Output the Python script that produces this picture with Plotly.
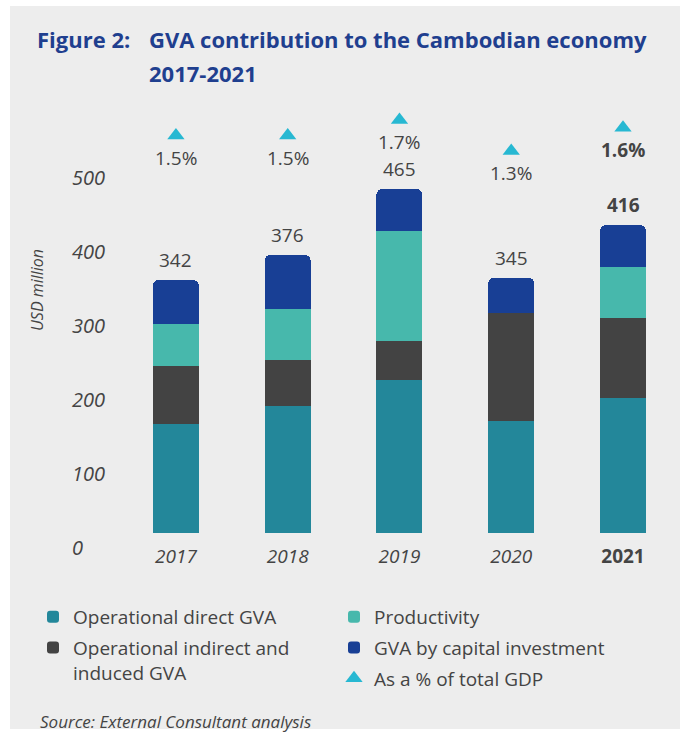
import plotly.graph_objects as go

# GVA components by year (USD million)
years = ["2017", "2018", "2019", "2020", "2021"]
direct_gva = [147, 172, 207, 152, 183]
indirect_gva = [79, 62, 52, 145, 107]
productivity = [57, 69, 149, 0, 70]
capital_gva = [59, 73, 57, 48, 56]
# GVA as a share of total GDP (%)
gdp_share = [1.5, 1.5, 1.7, 1.3, 1.6]
y_ticks = [0, 100, 200, 300, 400, 500]
latest_year = "2021"

totals = [sum(v) for v in zip(direct_gva, indirect_gva, productivity, capital_gva)]

FONT = "Open Sans"
TEXT = "#444444"
TITLE_BLUE = "#1f3f8f"
C_DIRECT = "#23879a"
C_INDIRECT = "#434343"
C_PROD = "#47b8ac"
C_CAPITAL = "#183f95"
C_TRI = "#27b8d2"

# plot area geometry (px) used to place paper-anchored items
ML, MT, W, H = 110, 100, 680, 739
PW = W - ML
PH = 433
PX_PER_UNIT = 0.74


def px_x(px):
    return (px - ML) / PW


def px_y(py):
    return 1 - (py - MT) / PH


fig = go.Figure()

series = [
    ("Operational direct GVA", direct_gva, C_DIRECT, "legend", "g1"),
    ("Operational indirect and<br>induced GVA", indirect_gva, C_INDIRECT, "legend", "g2"),
    ("Productivity", productivity, C_PROD, "legend2", "g3"),
    ("GVA by capital investment", capital_gva, C_CAPITAL, "legend2", "g4"),
]
for name, vals, color, leg, grp in series:
    fig.add_trace(go.Bar(
        x=years, y=vals, name=name,
        marker=dict(color=color, line=dict(width=0)),
        legend=leg, legendgroup=grp,
        hoverinfo="x+y+name",
    ))

fig.add_trace(go.Scatter(
    x=years, y=gdp_share, yaxis="y2", mode="markers",
    name="As a % of total GDP",
    marker=dict(symbol="triangle-up", size=15, color=C_TRI),
    legend="legend2", legendgroup="g5", cliponaxis=False,
))

annotations = []
# totals above each stack (category axis: x given as category index)
for i, (yr, tot) in enumerate(zip(years, totals)):
    txt = f"<b>{tot}</b>" if yr == latest_year else str(tot)
    annotations.append(dict(
        x=i, y=tot, xref="x", yref="y", text=txt, showarrow=False,
        yanchor="middle", yshift=20,
        font=dict(family=FONT, size=19, color=TEXT),
    ))
# share labels under the triangles
for i, (yr, p) in enumerate(zip(years, gdp_share)):
    txt = f"{p}%"
    if yr == latest_year:
        txt = f"<b>{txt}</b>"
    annotations.append(dict(
        x=i, y=p, xref="x", yref="y2", text=txt, showarrow=False,
        yanchor="middle", yshift=-22,
        font=dict(family=FONT, size=19, color=TEXT),
    ))

# title
annotations.append(dict(
    x=px_x(35), y=px_y(39), xref="paper", yref="paper", xanchor="left",
    yanchor="middle", showarrow=False, text="<b>Figure 2:</b>",
    font=dict(family=FONT, size=22, color=TITLE_BLUE),
))
annotations.append(dict(
    x=px_x(147), y=px_y(39), xref="paper", yref="paper", xanchor="left",
    yanchor="middle", showarrow=False,
    text="<b>GVA contribution to the Cambodian economy</b>",
    font=dict(family=FONT, size=22, color=TITLE_BLUE),
))
annotations.append(dict(
    x=px_x(147), y=px_y(73), xref="paper", yref="paper", xanchor="left",
    yanchor="middle", showarrow=False, text="<b>2017-2021</b>",
    font=dict(family=FONT, size=22, color=TITLE_BLUE),
))
# axis title
annotations.append(dict(
    x=px_x(37), y=px_y(290), xref="paper", yref="paper", xanchor="center",
    yanchor="middle", showarrow=False, textangle=-90, text="<i>USD million</i>",
    font=dict(family=FONT, size=16, color=TEXT),
))
# source
annotations.append(dict(
    x=px_x(38), y=px_y(721), xref="paper", yref="paper", xanchor="left",
    yanchor="middle", showarrow=False,
    text="<i>Source: External Consultant analysis</i>",
    font=dict(family=FONT, size=17, color=TEXT),
))

y_ticktext = []
for v in y_ticks:
    s = str(v)
    s = s + "\u2007" * (3 - len(s))
    y_ticktext.append(f"<i>{s}</i>")

x_ticktext = [f"<b>{y}</b>" if y == latest_year else f"<i>{y}</i>" for y in years]

fig.update_layout(
    width=W, height=H, autosize=False,
    margin=dict(l=ML, r=0, t=MT, b=H - MT - PH, pad=0),
    paper_bgcolor="white",
    plot_bgcolor="rgba(0,0,0,0)",
    barmode="stack",
    bargap=0.588,
    barcornerradius=6,
    font=dict(family=FONT, size=19, color=TEXT),
    showlegend=True,
    xaxis=dict(
        type="category", range=[-0.59, 4.51],
        tickmode="array", tickvals=years, ticktext=x_ticktext,
        showgrid=False, zeroline=False, showline=False, ticks="",
        ticklabelstandoff=10,
        tickfont=dict(family=FONT, size=19, color=TEXT),
    ),
    yaxis=dict(
        range=[0, PH / PX_PER_UNIT], tickmode="array", tickvals=y_ticks,
        ticktext=y_ticktext, showgrid=False, zeroline=False, showline=False,
        ticks="", ticklabelshift=15, ticklabelstandoff=4,
        tickfont=dict(family=FONT, size=20, color=TEXT),
    ),
    yaxis2=dict(
        overlaying="y", side="right", range=[-3.629, 1.958], visible=False,
    ),
    legend=dict(
        x=px_x(33), y=px_y(598), xanchor="left", yanchor="top",
        orientation="v", bgcolor="rgba(0,0,0,0)", valign="top",
        traceorder="grouped", tracegroupgap=3,
        font=dict(family=FONT, size=19, color=TEXT),
    ),
    legend2=dict(
        x=px_x(334), y=px_y(598), xanchor="left", yanchor="top",
        orientation="v", bgcolor="rgba(0,0,0,0)", valign="top",
        traceorder="grouped", tracegroupgap=3,
        font=dict(family=FONT, size=19, color=TEXT),
    ),
    shapes=[dict(
        type="rect", xref="paper", yref="paper", layer="below",
        x0=px_x(10), x1=px_x(680), y0=px_y(729), y1=px_y(6),
        fillcolor="#ededed", line=dict(width=0),
    )],
    annotations=annotations,
)

fig.write_html("out.html")
